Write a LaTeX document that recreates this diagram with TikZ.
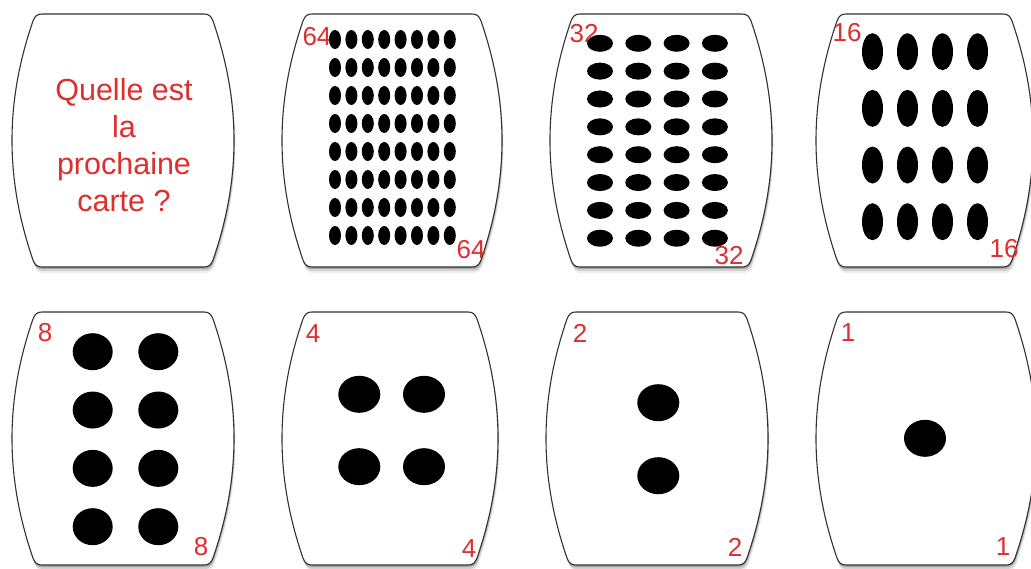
\documentclass[tikz,border=0pt]{standalone}
\usepackage{fontspec}
\setmainfont{Liberation Sans}
\definecolor{cardred}{RGB}{222,46,46}
\definecolor{cardline}{RGB}{50,50,50}
\newcommand{\cardpath}[4]{%
  ({#1+8},#2) -- ({#3-8},#2)
  .. controls ({#3-3},#2) and ({#3-1},{#2+2}) .. ({#3+1},{#2+7})
  .. controls ({#3+29},{#2+88}) and ({#3+29},{#4-88}) .. ({#3+1},{#4-7})
  .. controls ({#3-1},{#4-2}) and ({#3-3},#4) .. ({#3-8},#4)
  -- ({#1+8},#4)
  .. controls ({#1+3},#4) and ({#1+1},{#4-2}) .. ({#1-1},{#4-7})
  .. controls ({#1-29},{#4-88}) and ({#1-29},{#2+88}) .. ({#1-1},{#2+7})
  .. controls ({#1+1},{#2+2}) and ({#1+3},#2) .. cycle}
\newcommand{\drawcard}[4]{%
  \fill[black,opacity=0.20,shift={(0.5,2)}] \cardpath{#1}{#2}{#3}{#4};
  \fill[black,opacity=0.12,shift={(1,4)}] \cardpath{#1}{#2}{#3}{#4};
  \fill[black,opacity=0.07,shift={(1.5,6)}] \cardpath{#1}{#2}{#3}{#4};
  \path[cardbox] \cardpath{#1}{#2}{#3}{#4};}
\tikzset{
  cardbox/.style={draw=cardline,fill=white,line width=1.1pt},
  num/.style={text=cardred,inner sep=0pt,font=\fontsize{26}{26}\selectfont},
  question/.style={text=cardred,align=center,inner sep=0pt,font=\fontsize{30.5}{37}\selectfont},
  dot/.style={fill=black}
}
\begin{document}
\begin{tikzpicture}[x=1pt,y=-1pt]
\useasboundingbox (0,0) rectangle (1031,569);
\fill[white] (0,0) rectangle (1031,569);
% cards
\drawcard{34}{14}{212}{267}
\drawcard{304}{14}{480}{267}
\drawcard{572}{14}{750}{267}
\drawcard{838}{14}{1011}{267}
\drawcard{34}{312}{212}{565}
\drawcard{304}{312}{476}{565}
\drawcard{568}{312}{746}{565}
\drawcard{838}{312}{1014}{565}
% question
\node[question] (q) at (124,145) {Quelle est\\la\\prochaine\\carte ?};
% top-left numbers (under the dots)
\node[num] (n64a) at (317,37) {64};
\node[num] (n32a) at (584,34) {32};
\node[num] (n16a) at (847,33) {16};
\node[num] (n8a) at (45,333) {8};
\node[num] (n4a) at (313,334) {4};
\node[num] (n2a) at (580,333) {2};
\node[num] (n1a) at (848,333) {1};
% 64 dots
\foreach \i in {0,...,7} \foreach \j in {0,...,7}
  \fill[dot] ({335+16.4*\i},{39.5+28*\j}) ellipse [x radius=6, y radius=9.5];
% 32 dots
\foreach \i in {0,...,3} \foreach \j in {0,...,7}
  \fill[dot] ({600+38.3*\i},{43.3+27.85*\j}) ellipse [x radius=13, y radius=8.5];
% 16 dots
\foreach \i in {0,...,3} \foreach \j in {0,...,3}
  \fill[dot] ({872.5+35*\i},{51.7+56.67*\j}) ellipse [x radius=10.5, y radius=18.5];
% 8 dots
\foreach \x in {92.7,158.3} \foreach \j in {0,...,3}
  \fill[dot] (\x,{351.7+58.33*\j}) ellipse [x radius=20, y radius=18.5];
% 4 dots
\foreach \x in {359.3,424} \foreach \y in {394.3,466.7}
  \fill[dot] (\x,\y) ellipse [x radius=21, y radius=18.5];
% 2 dots
\foreach \y in {402.7,475.7}
  \fill[dot] (658.3,\y) ellipse [x radius=21, y radius=18.5];
% 1 dot
\fill[dot] (925,438.3) ellipse [x radius=21, y radius=18.5];
% bottom-right numbers
\node[num] (n64b) at (471,250) {64};
\node[num] (n32b) at (729,256) {32};
\node[num] (n16b) at (1004,249) {16};
\node[num] (n8b) at (201,547) {8};
\node[num] (n4b) at (469,549) {4};
\node[num] (n2b) at (735,547) {2};
\node[num] (n1b) at (1003,547) {1};
\end{tikzpicture}
\end{document}
